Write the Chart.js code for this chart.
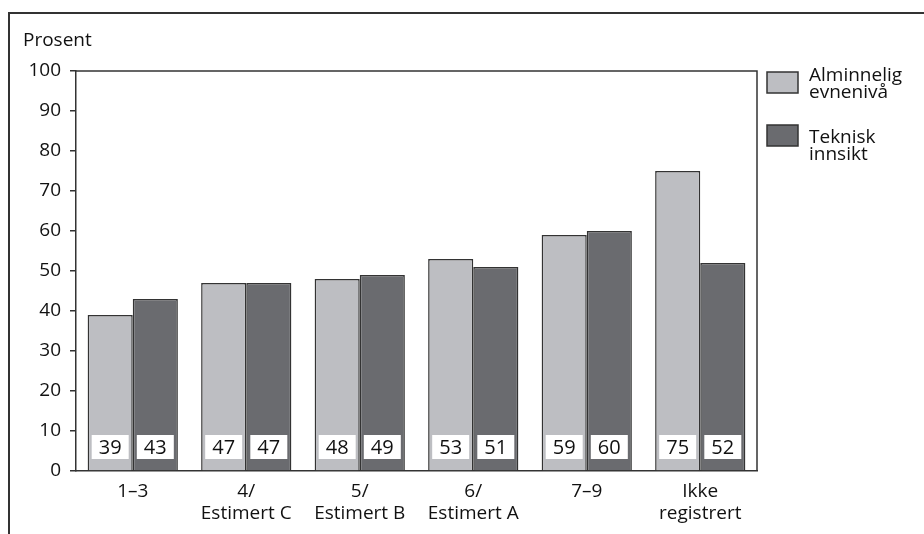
<!DOCTYPE html>
<html>
<head>
<meta charset="utf-8">
<script src="https://cdn.jsdelivr.net/npm/chart.js@4/dist/chart.umd.min.js"></script>
<style>
html,body{margin:0;padding:0;background:#fff;}
#wrap{width:924px;height:534px;position:relative;}
</style>
</head>
<body>
<div id="wrap"><canvas id="c" width="924" height="534"></canvas></div>
<script>
const categories = [['1–3'], ['4/', 'Estimert C'], ['5/', 'Estimert B'], ['6/', 'Estimert A'], ['7–9'], ['Ikke', 'registrert']];
const seriesNames = [['Alminnelig', 'evnenivå'], ['Teknisk', 'innsikt']];
const alminnelig = [39, 47, 48, 53, 59, 75];
const teknisk = [43, 47, 49, 51, 60, 52];
const yTicks = [0, 10, 20, 30, 40, 50, 60, 70, 80, 90, 100];
const yTitle = 'Prosent';

const FONT = '"Open Sans", "DejaVu Sans", sans-serif';
const LIGHT = '#bdbec2';
const DARK = '#6a6b6f';
const LINE = '#333333';

const decor = {
  id: 'decor',
  afterDraw(chart) {
    const ctx = chart.ctx;
    const a = chart.chartArea;
    ctx.save();
    // outer frame (top + left)
    ctx.strokeStyle = LINE;
    ctx.lineWidth = 2;
    ctx.beginPath();
    ctx.moveTo(924, 13);
    ctx.lineTo(9, 13);
    ctx.lineTo(9, 534);
    ctx.stroke();
    // plot box top and right
    ctx.lineWidth = 1.5;
    ctx.beginPath();
    ctx.moveTo(a.left, a.top);
    ctx.lineTo(a.right, a.top);
    ctx.lineTo(a.right, a.bottom);
    ctx.stroke();
    // y title
    ctx.fillStyle = '#111';
    ctx.font = '19px ' + FONT;
    ctx.textAlign = 'left';
    ctx.textBaseline = 'alphabetic';
    ctx.fillText(yTitle, 23, 46);
    // value labels
    const y = chart.scales.y;
    chart.data.datasets.forEach((ds, di) => {
      const meta = chart.getDatasetMeta(di);
      meta.data.forEach((bar, i) => {
        const cx = bar.x;
        const cy = y.getPixelForValue(6);
        const w = 37, h = 24;
        ctx.fillStyle = '#ffffff';
        ctx.fillRect(cx - w / 2, cy - h / 2, w, h);
        ctx.fillStyle = '#111';
        ctx.font = '20px ' + FONT;
        ctx.textAlign = 'center';
        ctx.textBaseline = 'alphabetic';
        ctx.fillText(String(ds.data[i]), cx, cy + 7);
      });
    });
    // legend
    const legendTops = [72, 125];
    const textBase = [81, 143];
    chart.data.datasets.forEach((ds, di) => {
      const top = legendTops[di];
      ctx.fillStyle = ds.backgroundColor;
      ctx.fillRect(767, top, 31, 21);
      ctx.strokeStyle = LINE;
      ctx.lineWidth = 1.5;
      ctx.strokeRect(767, top, 31, 21);
      ctx.fillStyle = '#111';
      ctx.font = '19px ' + FONT;
      ctx.textAlign = 'left';
      ctx.textBaseline = 'alphabetic';
      seriesNames[di].forEach((t, li) => {
        ctx.fillText(t, 809, textBase[di] + li * 17);
      });
    });
    ctx.restore();
  }
};

new Chart(document.getElementById('c'), {
  type: 'bar',
  data: {
    labels: categories,
    datasets: [
      { label: seriesNames[0].join(' '), data: alminnelig, backgroundColor: LIGHT, borderColor: LINE, borderWidth: 1.5, borderSkipped: 'bottom' },
      { label: seriesNames[1].join(' '), data: teknisk, backgroundColor: DARK, borderColor: LINE, borderWidth: 1.5, borderSkipped: 'bottom' }
    ]
  },
  options: {
    responsive: false,
    animation: false,
    devicePixelRatio: 1,
    layout: { padding: { left: 0, top: 71, right: 167, bottom: 0 } },
    datasets: { bar: { categoryPercentage: 0.795, barPercentage: 1.0 } },
    plugins: { legend: { display: false }, tooltip: { enabled: false }, title: { display: false } },
    scales: {
      x: {
        grid: { display: false, drawTicks: false },
        border: { display: true, color: LINE, width: 1.5 },
        ticks: { color: '#111', font: { family: FONT, size: 19, lineHeight: 1.15 }, padding: 10, maxRotation: 0, autoSkip: false },
        afterFit(s) { s.height = 63; }
      },
      y: {
        min: 0, max: 100,
        afterBuildTicks(s) { s.ticks = yTicks.map(v => ({ value: v })); },
        grid: { drawOnChartArea: false, drawTicks: true, tickLength: 6, color: LINE, lineWidth: 1.5 },
        border: { display: true, color: LINE, width: 1.5 },
        ticks: { color: '#111', font: { family: FONT, size: 19 }, padding: 9 },
        afterFit(s) { s.width = 76; }
      }
    }
  },
  plugins: [decor]
});
</script>
</body>
</html>
